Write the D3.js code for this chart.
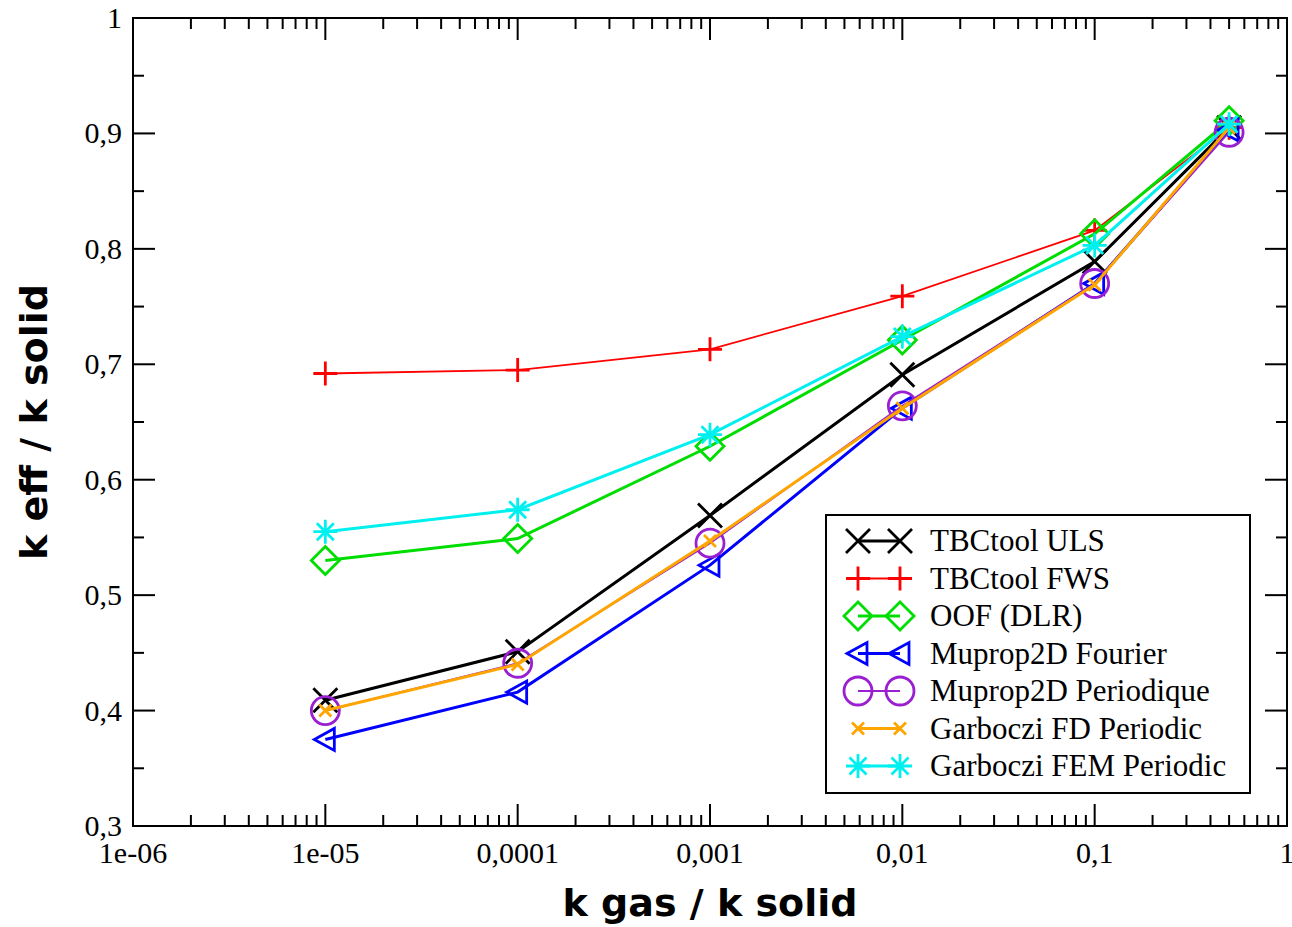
<!DOCTYPE html>
<html>
<head>
<meta charset="utf-8">
<script src="https://cdn.jsdelivr.net/npm/d3@7"></script>
<style>
  body { margin: 0; background: #fff; }
</style>
</head>
<body>
<div id="canvas"></div>
<script>
"use strict"

// x values (k gas / k solid)
let ratios = [1e-5, 1e-4, 1e-3, 1e-2, 1e-1, 0.5]

let seriesNames = ["TBCtool ULS", "TBCtool FWS", "OOF (DLR)", "Muprop2D Fourier",
    "Muprop2D Periodique", "Garboczi FD Periodic", "Garboczi FEM Periodic"]

let ulsValues = [0.409, 0.451, 0.569, 0.691, 0.789, 0.905]
let fwsValues = [0.692, 0.695, 0.713, 0.759, 0.816, 0.905]
let oofValues = [0.530, 0.549, 0.629, 0.721, 0.813, 0.911]
let fourierValues = [0.375, 0.416, 0.526, 0.662, 0.770, 0.903]
let periodiqueValues = [0.400, 0.441, 0.545, 0.664, 0.770, 0.901]
let fdValues = [0.400, 0.440, 0.547, 0.662, 0.769, 0.905]
let femValues = [0.555, 0.574, 0.639, 0.724, 0.803, 0.908]

let xTickValues = [1e-6, 1e-5, 1e-4, 1e-3, 1e-2, 1e-1, 1]
let xTickLabels = ["1e-06", "1e-05", "0,0001", "0,001", "0,01", "0,1", "1"]
let yTickValues = [0.3, 0.4, 0.5, 0.6, 0.7, 0.8, 0.9, 1]
let yTickLabels = ["0,3", "0,4", "0,5", "0,6", "0,7", "0,8", "0,9", "1"]

let svgWidth = 1292
let svgHeight = 927

let margin = { top: 18, right: 5, bottom: 101, left: 133 }
let width = svgWidth - margin.left - margin.right
let height = svgHeight - margin.top - margin.bottom

let svg = d3.select("#canvas")
    .append("svg")
    .attr("width", svgWidth)
    .attr("height", svgHeight)

let chart = svg.append("g")
    .attr("transform", `translate(${margin.left},${margin.top})`)

let xScale = d3.scaleLog().domain([1e-6, 1]).range([0, width])
let yScale = d3.scaleLinear().domain([0.3, 1]).range([height, 0])

// style per series: colour, line width, marker kind
let styles = [
    { color: "#000000", lw: 3, marker: "x" },
    { color: "#ff0000", lw: 1.8, marker: "plus" },
    { color: "#00dd00", lw: 3, marker: "diamond" },
    { color: "#0000ff", lw: 3, marker: "triangle" },
    { color: "#9a1fd0", lw: 1.8, marker: "circle" },
    { color: "#ffa500", lw: 3, marker: "smallx" },
    { color: "#00f0f0", lw: 3, marker: "star" }
]

let allValues = [ulsValues, fwsValues, oofValues, fourierValues, periodiqueValues, fdValues, femValues]

let serif = "'Liberation Serif', 'DejaVu Serif', serif"
let comic = "'Comic Sans MS', 'DejaVu Sans', sans-serif"

// marker path centered at 0,0
function markerPath(kind) {
    let p = d3.path()
    if (kind === "x") {
        let s = 12
        p.moveTo(-s, -s); p.lineTo(s, s)
        p.moveTo(-s, s); p.lineTo(s, -s)
    } else if (kind === "plus") {
        let s = 12
        p.moveTo(-s, 0); p.lineTo(s, 0)
        p.moveTo(0, -s); p.lineTo(0, s)
    } else if (kind === "diamond") {
        let s = 14
        p.moveTo(0, -s); p.lineTo(s, 0); p.lineTo(0, s); p.lineTo(-s, 0); p.closePath()
    } else if (kind === "triangle") {
        p.moveTo(-11, 0); p.lineTo(9, -11); p.lineTo(9, 11); p.closePath()
    } else if (kind === "circle") {
        p.moveTo(14, 0); p.arc(0, 0, 14, 0, Math.PI * 2)
    } else if (kind === "smallx") {
        let s = 6
        p.moveTo(-s, -s); p.lineTo(s, s)
        p.moveTo(-s, s); p.lineTo(s, -s)
    } else if (kind === "star") {
        let s = 12, d = 8.5
        p.moveTo(-s, 0); p.lineTo(s, 0)
        p.moveTo(0, -s); p.lineTo(0, s)
        p.moveTo(-d, -d); p.lineTo(d, d)
        p.moveTo(-d, d); p.lineTo(d, -d)
    }
    return p.toString()
}

// ticks, drawn inward on all four sides
let axisGroup = chart.append("g").attr("stroke", "#000").attr("stroke-width", 2)

let xMinor = []
for (let e = -6; e < 0; e++) {
    for (let m = 2; m <= 9; m++) xMinor.push(m * Math.pow(10, e))
}
let yMinor = d3.range(0.35, 1, 0.1)

xTickValues.forEach(function (v) {
    let x = xScale(v)
    axisGroup.append("line").attr("x1", x).attr("x2", x).attr("y1", height).attr("y2", height - 22)
    axisGroup.append("line").attr("x1", x).attr("x2", x).attr("y1", 0).attr("y2", 22)
})
xMinor.forEach(function (v) {
    let x = xScale(v)
    axisGroup.append("line").attr("x1", x).attr("x2", x).attr("y1", height).attr("y2", height - 11)
    axisGroup.append("line").attr("x1", x).attr("x2", x).attr("y1", 0).attr("y2", 11)
})
yTickValues.forEach(function (v) {
    let y = yScale(v)
    axisGroup.append("line").attr("x1", 0).attr("x2", 22).attr("y1", y).attr("y2", y)
    axisGroup.append("line").attr("x1", width).attr("x2", width - 22).attr("y1", y).attr("y2", y)
})
yMinor.forEach(function (v) {
    let y = yScale(v)
    axisGroup.append("line").attr("x1", 0).attr("x2", 11).attr("y1", y).attr("y2", y)
    axisGroup.append("line").attr("x1", width).attr("x2", width - 11).attr("y1", y).attr("y2", y)
})

chart.append("rect")
    .attr("width", width)
    .attr("height", height)
    .attr("fill", "none")
    .attr("stroke", "#000")
    .attr("stroke-width", 2)

// tick labels
xTickValues.forEach(function (v, i) {
    chart.append("text")
        .attr("x", xScale(v))
        .attr("y", height + 37)
        .attr("text-anchor", "middle")
        .style("font-family", serif)
        .style("font-size", "30px")
        .text(xTickLabels[i])
})
yTickValues.forEach(function (v, i) {
    chart.append("text")
        .attr("x", -11)
        .attr("y", yScale(v) + 10)
        .attr("text-anchor", "end")
        .style("font-family", serif)
        .style("font-size", "30px")
        .text(yTickLabels[i])
})

// axis titles
svg.append("text")
    .attr("x", margin.left + xScale(1e-3))
    .attr("y", 916)
    .attr("text-anchor", "middle")
    .style("font-family", comic)
    .style("font-weight", "bold")
    .style("font-size", "38px")
    .text("k gas / k solid")

svg.append("text")
    .attr("transform", "translate(47, 422) rotate(-90)")
    .attr("text-anchor", "middle")
    .style("font-family", comic)
    .style("font-weight", "bold")
    .style("font-size", "38px")
    .text("k eff / k solid")

// series lines and markers
let line = d3.line()
    .x(function (d) { return xScale(d.x) })
    .y(function (d) { return yScale(d.y) })

allValues.forEach(function (values, i) {
    let pts = values.map(function (v, j) { return { x: ratios[j], y: v } })
    let st = styles[i]
    chart.append("path")
        .attr("d", line(pts))
        .attr("fill", "none")
        .attr("stroke", st.color)
        .attr("stroke-width", st.lw)

    chart.selectAll("path.m" + i)
        .data(pts)
        .join("path")
        .attr("class", "m" + i)
        .attr("d", markerPath(st.marker))
        .attr("transform", function (d) { return `translate(${xScale(d.x)},${yScale(d.y)})` })
        .attr("fill", "none")
        .attr("stroke", st.color)
        .attr("stroke-width", 2.8)
})

// legend
let legend = svg.append("g").attr("transform", "translate(826, 515)")
legend.append("rect")
    .attr("width", 424)
    .attr("height", 278)
    .attr("fill", "#fff")
    .attr("stroke", "#000")
    .attr("stroke-width", 2)

seriesNames.forEach(function (name, i) {
    let y = 26 + i * 37.5
    let st = styles[i]
    legend.append("line")
        .attr("x1", 32).attr("x2", 74)
        .attr("y1", y).attr("y2", y)
        .attr("stroke", st.color)
        .attr("stroke-width", st.lw)
    ;[32, 74].forEach(function (mx) {
        legend.append("path")
            .attr("d", markerPath(st.marker))
            .attr("transform", `translate(${mx},${y})`)
            .attr("fill", "none")
            .attr("stroke", st.color)
            .attr("stroke-width", 2.8)
    })
    legend.append("text")
        .attr("x", 104)
        .attr("y", y + 10)
        .style("font-family", serif)
        .style("font-size", "31px")
        .text(name)
})
</script>
</body>
</html>
